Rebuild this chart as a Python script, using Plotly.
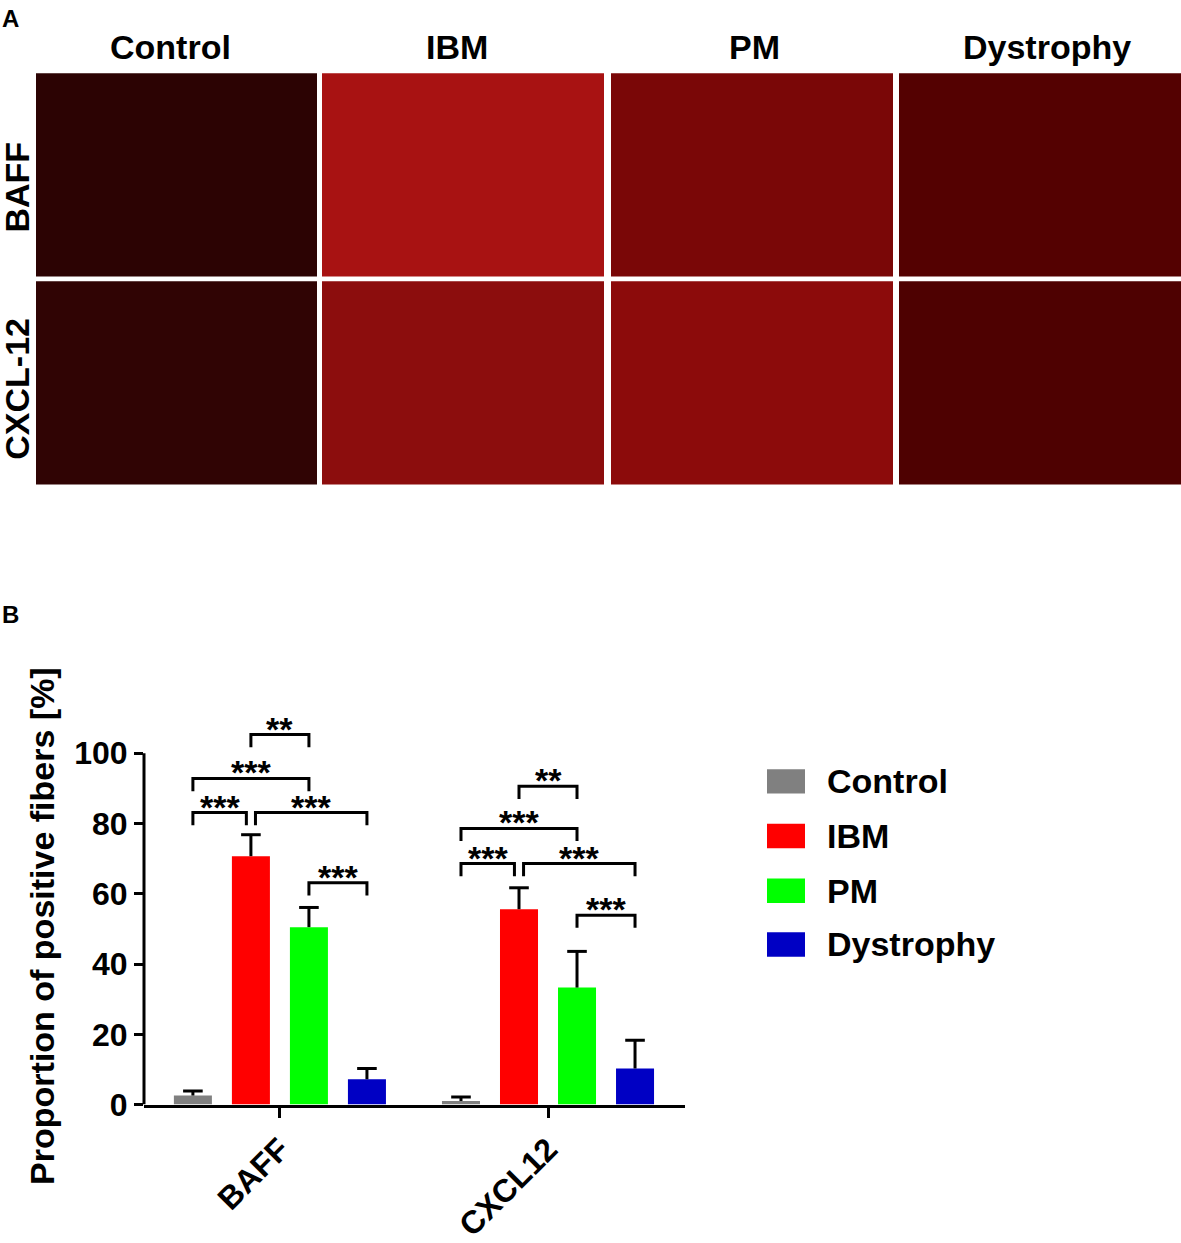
import plotly.graph_objects as go

# ---- data ----
markers = ["BAFF", "CXCL12"]
groups = ["Control", "IBM", "PM", "Dystrophy"]
colors = ["#808080", "#ff0000", "#00ff00", "#0000c4"]
means = {
    "Control": [2.6, 1.0],
    "IBM": [70.7, 55.6],
    "PM": [50.5, 33.3],
    "Dystrophy": [7.2, 10.3],
}
sems = {
    "Control": [1.3, 1.2],
    "IBM": [6.1, 6.1],
    "PM": [5.6, 10.3],
    "Dystrophy": [3.1, 8.0],
}
# (marker index, left group, right group, bracket level, label)
comparisons = [
    (0, 1, 2, 105.3, "**"),
    (0, 0, 2, 92.8, "***"),
    (0, 0, 1, 83.1, "***"),
    (0, 1, 3, 83.1, "***"),
    (0, 2, 3, 63.1, "***"),
    (1, 1, 2, 90.6, "**"),
    (1, 0, 2, 78.6, "***"),
    (1, 0, 1, 68.6, "***"),
    (1, 1, 3, 68.6, "***"),
    (1, 2, 3, 53.9, "***"),
]
yticks = [0, 20, 40, 60, 80, 100]

# panel A
stains = ["BAFF", "CXCL-12"]
image_tint = [
    ["#2c0303", "#a81212", "#7a0707", "#540101"],
    ["#300404", "#8c0d0d", "#8c0b0b", "#4e0101"],
]

W, H = 1181, 1243
FONT = "Liberation Sans, Arial, sans-serif"

slot = 0.2164
bar_w = 0.1418
offsets = [(i - 1.5) * slot for i in range(len(groups))]


def px(xp):
    return xp / W


def py(yp):
    return 1 - yp / H


fig = go.Figure()

for i, g in enumerate(groups):
    xs = [m + offsets[i] for m in range(len(markers))]
    fig.add_trace(go.Bar(x=xs, y=means[g], width=bar_w, marker=dict(color=colors[i], line=dict(width=0)),
                         showlegend=False, name=g))

for i, g in enumerate(groups):
    xs = [m + offsets[i] for m in range(len(markers))]
    fig.add_trace(go.Scatter(x=xs, y=means[g], mode="markers", marker=dict(size=2, opacity=0),
                             error_y=dict(type="data", array=sems[g], arrayminus=[0] * len(xs), symmetric=False,
                                          width=0, thickness=3, color="black"),
                             showlegend=False, hoverinfo="skip"))
    tops = [a + b for a, b in zip(means[g], sems[g])]
    fig.add_trace(go.Scatter(x=xs, y=tops, mode="markers",
                             marker=dict(symbol="line-ew", size=14, line=dict(width=3, color="black")),
                             showlegend=False, hoverinfo="skip"))

shapes = []
annotations = []

# y axis line stops at 100
shapes.append(dict(type="line", xref="paper", yref="y", x0=px(144), x1=px(144), y0=0, y1=100,
                   line=dict(color="black", width=3)))

# significance brackets
leg = 3.6
for m, a, b, lvl, lab in comparisons:
    xa = m + offsets[a]
    xb = m + offsets[b]
    # nudge ends that meet another bracket on the same level
    for m2, a2, b2, lvl2, _ in comparisons:
        if m2 == m and lvl2 == lvl:
            if b2 == a and (a2, b2) != (a, b):
                xa += 0.017
            if a2 == b and (a2, b2) != (a, b):
                xb -= 0.017
    shapes.append(dict(type="path", xref="x", yref="y",
                       path=f"M {xa},{lvl - leg} L {xa},{lvl} L {xb},{lvl} L {xb},{lvl - leg}",
                       line=dict(color="black", width=3)))
    annotations.append(dict(x=(xa + xb) / 2, y=lvl, xref="x", yref="y", text=lab, showarrow=False,
                            yanchor="middle", yshift=6,
                            font=dict(family=FONT, size=34, color="black", weight="bold")))

# custom legend
leg_rows = [800, 856, 912, 967]
for i, g in enumerate(groups):
    shapes.append(dict(type="rect", xref="paper", yref="paper", x0=px(767), x1=px(805),
                       y0=py(leg_rows[i] + 12.5), y1=py(leg_rows[i] - 12.5),
                       fillcolor=colors[i], line=dict(width=0)))
    annotations.append(dict(x=px(825), y=py(leg_rows[i]), xref="paper", yref="paper", text=g,
                            showarrow=False, xanchor="left", yanchor="middle",
                            font=dict(family=FONT, size=34, color="black", weight="bold")))

# y axis title
annotations.append(dict(x=px(42), y=py(948), xref="paper", yref="paper",
                        text="Proportion of positive fibers [%]", textangle=-90, showarrow=False,
                        xanchor="center", yanchor="middle",
                        font=dict(family=FONT, size=34, color="black", weight="bold")))

# panel A: image tiles
col_x = [(36, 317), (322, 604), (611, 893), (899, 1181)]
row_y = [(75, 283), (288, 496)]
for r in range(len(stains)):
    for c in range(len(groups)):
        shapes.append(dict(type="rect", xref="paper", yref="paper",
                           x0=px(col_x[c][0]), x1=px(col_x[c][1]),
                           y0=py(row_y[r][1]), y1=py(row_y[r][0]),
                           fillcolor=image_tint[r][c], line=dict(width=0), layer="below"))

title_x = [170, 457, 754, 1047]
for c, g in enumerate(groups):
    annotations.append(dict(x=px(title_x[c]), y=py(48), xref="paper", yref="paper", text=g,
                            showarrow=False, xanchor="center", yanchor="middle",
                            font=dict(family=FONT, size=34, color="black", weight="bold")))

row_label_y = [192, 398]
for r, s in enumerate(stains):
    annotations.append(dict(x=px(17), y=py(row_label_y[r]), xref="paper", yref="paper", text=s,
                            textangle=-90, showarrow=False, xanchor="center", yanchor="middle",
                            font=dict(family=FONT, size=34, color="black", weight="bold")))

for lab, yy in [("A", 19), ("B", 629)]:
    annotations.append(dict(x=px(0), y=py(yy), xref="paper", yref="paper", text=lab, showarrow=False,
                            xanchor="left", yanchor="middle",
                            font=dict(family=FONT, size=24, color="black", weight="bold")))

fig.update_layout(
    width=W, height=H,
    margin=dict(l=0, r=0, t=0, b=0),
    paper_bgcolor="white",
    plot_bgcolor="white",
    barmode="overlay",
    showlegend=False,
    shapes=shapes,
    annotations=annotations,
    xaxis=dict(domain=[px(144), px(685)], range=[-0.507, 1.511],
               tickvals=list(range(len(markers))), ticktext=markers, tickangle=-45,
               showline=True, linecolor="black", linewidth=3,
               ticks="outside", ticklen=10, tickwidth=3, tickcolor="black",
               showgrid=False, zeroline=False,
               tickfont=dict(family=FONT, size=32, color="black", weight="bold")),
    yaxis=dict(domain=[py(1131), py(728)], range=[0, 112],
               tickvals=yticks, showline=False,
               ticks="outside", ticklen=9, tickwidth=3, tickcolor="black",
               showgrid=False, zeroline=False,
               tickfont=dict(family=FONT, size=32, color="black", weight="bold")),
)

page_js = "document.body.style.margin='0';"
fig.write_html("out.html", config={"displayModeBar": False}, post_script=page_js)
